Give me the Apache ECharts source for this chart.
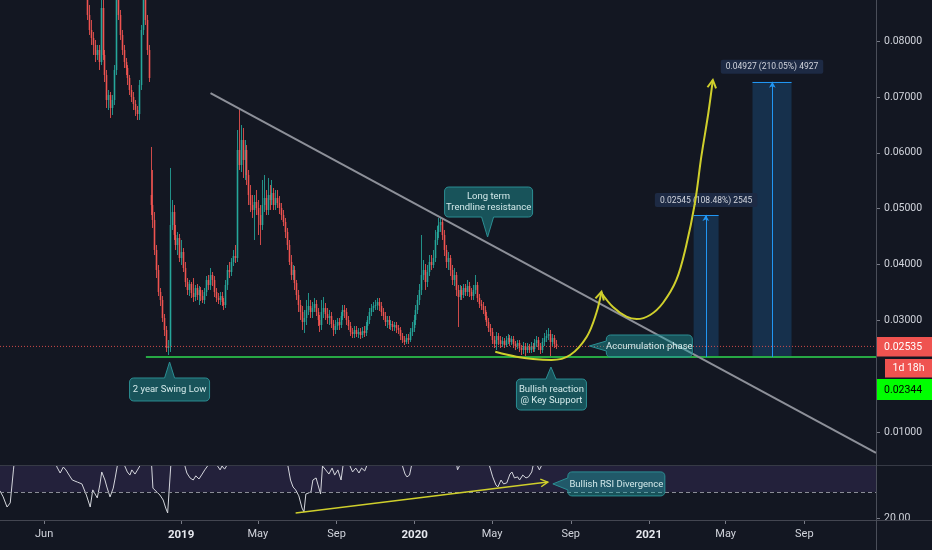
<!DOCTYPE html>
<html><head><meta charset="utf-8">
<script src="https://cdn.jsdelivr.net/npm/echarts@6.0.0/dist/echarts.min.js"></script>
<style>html,body{margin:0;padding:0;background:#131722;}#c{width:932px;height:550px;}</style>
</head><body><div id="c"></div>
<script>
// ---------- DATA ----------
const candleStart = '2018-08-08';   // first 3-day candle
const candleStepDays = 3;
const open = [
.09273,.08468,.08199,.08056,.07931,.07752,.07841,.07626,.08593,.07752,
.07393,.06946,.07035,.06803,.06946,.07483,.08826,.08468,.08110,.07841,
.07626,.07519,.07340,.07125,.07000,.06874,.06767,.06695,.07214,.08199,
.08915,.08378,.07841,.05245,.05066,.04798,.04261,.03903,.03509,.03366,
.03043,.02829,.02506,.02542,.04708,.04941,.04529,.04350,.04475,.04117,
.04225,.03938,.03688,.03545,.03652,.03491,.03419,.03580,.03455,.03545,
.03437,.03366,.03509,.03724,.03634,.03813,.03724,.03509,.03401,.03366,
.03437,.03330,.03276,.03634,.03903,.03867,.04046,.04153,.04117,.06051,
.05782,.06230,.05872,.06051,.05603,.05245,.05066,.04977,.05120,.05013,
.04887,.04708,.05066,.05192,.04977,.05245,.05156,.05281,.05066,.05192,
.05102,.05013,.04887,.04762,.04583,.04350,.04046,.03813,.03903,.03670,
.03455,.03276,.03151,.02972,.03043,.03187,.03258,.03151,.03222,.03294,
.03151,.03008,.02918,.03151,.03222,.03115,.03043,.03079,.02936,.02829,
.02900,.02972,.02918,.03079,.03187,.03151,.03008,.02900,.02793,.02757,
.02829,.02757,.02793,.02739,.02811,.02775,.02900,.03008,.03151,.03222,
.03258,.03276,.03330,.03258,.03151,.03079,.02972,.03008,.02918,.02936,
.02882,.02918,.02864,.02829,.02721,.02649,.02614,.02685,.02649,.02793,
.02864,.03008,.03187,.03366,.03545,.03813,.03903,.03688,.03867,.04046,
.03992,.04117,.04440,.04583,.04708,.04762,.04529,.04261,.04046,.04117,
.03903,.03724,.03813,.03545,.03419,.03545,.03455,.03580,.03509,.03616,
.03509,.03437,.03545,.03634,.03401,.03294,.03258,.03187,.03079,.02972,
.02864,.02793,.02649,.02578,.02721,.02649,.02578,.02632,.02560,.02649,
.02685,.02614,.02667,.02578,.02542,.02596,.02506,.02470,.02542,.02470,
.02524,.02470,.02542,.02488,.02596,.02649,.02542,.02470,.02614,.02685,
.02721,.02757,.02614,.02685,.02578];
const close = [
.08468,.08199,.08056,.07931,.07752,.07841,.07626,.08593,.07752,.07393,
.06946,.07035,.06803,.06946,.07483,.08826,.08468,.08110,.07841,.07626,
.07519,.07340,.07125,.07000,.06874,.06767,.06695,.07214,.08199,.08915,
.08378,.07841,.07340,.05066,.04798,.04261,.03903,.03509,.03366,.03043,
.02829,.02506,.02542,.04708,.04941,.04529,.04350,.04475,.04117,.04225,
.03938,.03688,.03545,.03652,.03491,.03419,.03580,.03455,.03545,.03437,
.03366,.03509,.03724,.03634,.03813,.03724,.03509,.03401,.03366,.03437,
.03330,.03276,.03634,.03903,.03867,.04046,.04153,.04117,.06051,.05782,
.06230,.05872,.06051,.05603,.05245,.05066,.04977,.05120,.05013,.04887,
.04708,.05066,.05192,.04977,.05245,.05156,.05281,.05066,.05192,.05102,
.05013,.04887,.04762,.04583,.04350,.04046,.03813,.03903,.03670,.03455,
.03276,.03151,.02972,.03043,.03187,.03258,.03151,.03222,.03294,.03151,
.03008,.02918,.03151,.03222,.03115,.03043,.03079,.02936,.02829,.02900,
.02972,.02918,.03079,.03187,.03151,.03008,.02900,.02793,.02757,.02829,
.02757,.02793,.02739,.02811,.02775,.02900,.03008,.03151,.03222,.03258,
.03276,.03330,.03258,.03151,.03079,.02972,.03008,.02918,.02936,.02882,
.02918,.02864,.02829,.02721,.02649,.02614,.02685,.02649,.02793,.02864,
.03008,.03187,.03366,.03545,.03813,.03903,.03688,.03867,.04046,.03992,
.04117,.04440,.04583,.04708,.04762,.04529,.04261,.04046,.04117,.03903,
.03724,.03813,.03545,.03419,.03545,.03455,.03580,.03509,.03616,.03509,
.03437,.03545,.03634,.03401,.03294,.03258,.03187,.03079,.02972,.02864,
.02793,.02649,.02578,.02721,.02649,.02578,.02632,.02560,.02649,.02685,
.02614,.02667,.02578,.02542,.02596,.02506,.02470,.02542,.02470,.02524,
.02470,.02542,.02488,.02596,.02649,.02542,.02470,.02614,.02685,.02721,
.02757,.02614,.02685,.02578,.02535];
const low = [
.08378,.08110,.07931,.07752,.07626,.07662,.07483,.07572,.07662,.07268,
.06803,.06767,.06624,.06677,.06856,.07393,.08378,.08020,.07752,.07519,
.07393,.07214,.07035,.06910,.06767,.06660,.06588,.06588,.07125,.08110,
.08289,.07752,.07268,.04887,.04655,.04171,.03759,.03437,.03258,.02972,
.02721,.02435,.02381,.02435,.04619,.04440,.04261,.04171,.04046,.03992,
.03867,.03598,.03455,.03437,.03401,.03330,.03348,.03366,.03276,.03348,
.03312,.03294,.03437,.03545,.03545,.03616,.03419,.03330,.03294,.03276,
.03258,.03187,.03222,.03545,.03759,.03795,.03974,.04028,.04046,.05693,
.05657,.05550,.05514,.05424,.05066,.04941,.04834,.04440,.04887,.04529,
.04350,.04619,.04941,.04887,.04887,.04977,.05066,.04977,.04977,.05013,
.04905,.04798,.04690,.04475,.04261,.03992,.03724,.03724,.03545,.03366,
.03151,.03008,.02829,.02775,.02918,.03097,.03043,.03043,.03151,.03079,
.02900,.02793,.02829,.03043,.03008,.02936,.02918,.02864,.02721,.02757,
.02829,.02829,.02864,.03008,.03043,.02918,.02829,.02721,.02685,.02685,
.02703,.02685,.02667,.02685,.02703,.02721,.02829,.02936,.03079,.03151,
.03187,.03187,.03169,.03079,.03008,.02900,.02864,.02846,.02829,.02811,
.02811,.02775,.02757,.02649,.02596,.02560,.02578,.02578,.02614,.02721,
.02793,.02918,.03115,.03276,.03455,.03724,.03545,.03598,.03795,.03903,
.03938,.04046,.04350,.04475,.04583,.04440,.04153,.03938,.03903,.03795,
.03634,.03616,.03437,.02882,.03366,.03366,.03401,.03437,.03437,.03419,
.03366,.03366,.03473,.03330,.03222,.03187,.03115,.03008,.02900,.02793,
.02721,.02578,.02506,.02470,.02560,.02506,.02524,.02506,.02524,.02578,
.02542,.02560,.02506,.02470,.02488,.02435,.02381,.02399,.02363,.02417,
.02417,.02417,.02435,.02435,.02524,.02470,.02399,.02417,.02542,.02614,
.02649,.02363,.02542,.02506,.02488];
const high = [
.09452,.08647,.08378,.08163,.08020,.07931,.07931,.08826,.08736,.07841,
.07483,.07125,.07089,.07035,.07572,.09273,.09094,.08557,.08199,.07931,
.07698,.07572,.07393,.07214,.07089,.06946,.06839,.07304,.08289,.09452,
.09273,.08468,.07931,.06105,.05693,.04941,.04350,.03992,.03580,.03437,
.03115,.02900,.02649,.05729,.05156,.05066,.04708,.04583,.04547,.04440,
.04296,.04046,.03759,.03724,.03688,.03759,.03634,.03652,.03616,.03598,
.03545,.03580,.03795,.03813,.03938,.03867,.03795,.03580,.03491,.03509,
.03509,.03401,.03724,.03992,.04046,.04117,.04261,.04350,.06409,.06803,
.06498,.06445,.06230,.06140,.05693,.05424,.05245,.05245,.05335,.05156,
.05066,.05514,.05603,.05335,.05550,.05424,.05514,.05371,.05335,.05335,
.05227,.05102,.04977,.04834,.04655,.04440,.04171,.03992,.03974,.03724,
.03545,.03366,.03258,.03187,.03366,.03491,.03366,.03330,.03401,.03366,
.03222,.03097,.03366,.03419,.03312,.03222,.03187,.03151,.03008,.03008,
.03043,.03043,.03151,.03276,.03276,.03222,.03079,.02972,.02864,.02900,
.02900,.02864,.02864,.02882,.02900,.02972,.03079,.03222,.03294,.03330,
.03366,.03401,.03401,.03330,.03222,.03151,.03079,.03079,.03008,.02990,
.02972,.02972,.02918,.02882,.02775,.02721,.02757,.02757,.02864,.02972,
.03097,.03276,.03455,.03652,.04529,.04082,.04010,.03992,.04171,.04171,
.04261,.04619,.04690,.04834,.04834,.04834,.04619,.04350,.04225,.04171,
.03992,.03938,.03867,.03634,.03634,.03616,.03652,.03652,.03724,.03688,
.03580,.03634,.03813,.03688,.03473,.03366,.03330,.03258,.03151,.03043,
.02936,.02864,.02721,.02793,.02775,.02721,.02703,.02685,.02721,.02757,
.02739,.02721,.02721,.02632,.02649,.02649,.02560,.02614,.02596,.02596,
.02578,.02614,.02596,.02667,.02721,.02703,.02596,.02685,.02775,.02829,
.02864,.02829,.02757,.02739,.02649];

const lastPrice = 0.02535;
const supportPrice = 0.02344;
const supportStart = '2018-11-07';
const countdownText = '1d 18h';

const priceTicks = [0.01, 0.03, 0.04, 0.05, 0.06, 0.07, 0.08];
const rsiTicks = [20];
const timeTickDates = ['2018-06-01','2019-01-01','2019-05-01','2019-09-01','2020-01-01','2020-05-01','2020-09-01','2021-01-01','2021-05-01','2021-09-01'];
const timeTickLabels = ['Jun','2019','May','Sep','2020','May','Sep','2021','May','Sep'];

const trendDates = ['2019-02-16','2021-12-22'];
const trendPrices = [0.07071, 0.00627];

const curve1Dates = ['2020-05-06','2020-06-08','2020-07-04','2020-08-02','2020-08-31','2020-09-26','2020-10-11','2020-10-19'];
const curve1Prices = [0.02440,0.02351,0.02309,0.02291,0.02381,0.02709,0.03133,0.03514];
const curve2Dates = ['2020-10-19','2020-11-06','2020-11-27','2020-12-13','2021-01-03','2021-01-23','2021-02-13','2021-02-28','2021-03-14','2021-03-24','2021-04-04','2021-04-11'];
const curve2Prices = [0.03491,0.03240,0.03067,0.03025,0.03097,0.03312,0.03724,0.04320,0.05102,0.05931,0.06713,0.07304];

const rangeStart = ['2021-03-12','2021-06-12'];
const rangeEnd   = ['2021-04-20','2021-08-12'];
const rangeMid   = ['2021-03-31','2021-07-13'];
const rangeDelta = [0.02545, 0.04927];
const rangeLabels = ['0.02545 (108.48%) 2545','0.04927 (210.05%) 4927'];

const rsiDates = ['2018-03-24','2018-03-29','2018-04-04','2018-04-09','2018-04-12','2018-04-14','2018-04-18','2018-05-18','2018-06-13','2018-06-21',
'2018-06-26','2018-07-01','2018-07-05','2018-07-10','2018-07-15','2018-07-23','2018-07-30','2018-08-06','2018-08-12','2018-08-16',
'2018-08-23','2018-08-27','2018-08-30','2018-09-04','2018-09-07','2018-09-12','2018-09-17','2018-09-20','2018-09-23','2018-09-28',
'2018-10-05','2018-10-09','2018-10-13','2018-10-16','2018-10-21','2018-10-24','2018-10-29','2018-11-06','2018-11-13','2018-11-16',
'2018-11-18','2018-11-24','2018-11-29','2018-12-04','2018-12-08','2018-12-11','2018-12-14','2018-12-16','2018-12-19','2019-01-04',
'2019-01-07','2019-01-10','2019-01-15','2019-01-20','2019-01-24','2019-01-29','2019-02-03','2019-02-07','2019-02-12','2019-02-18',
'2019-02-27','2019-03-03','2019-03-06','2019-03-10','2019-03-13','2019-03-21','2019-05-04','2019-06-14','2019-06-17','2019-06-21',
'2019-06-25','2019-06-29','2019-07-04','2019-07-09','2019-07-12','2019-07-15','2019-07-18','2019-07-23','2019-07-26','2019-07-31',
'2019-08-03','2019-08-07','2019-08-10','2019-08-15','2019-08-20','2019-08-25','2019-08-29','2019-09-03','2019-09-08','2019-09-11',
'2019-09-15','2019-09-22','2019-09-26','2019-10-01','2019-10-06','2019-10-10','2019-10-15','2019-10-18','2019-10-26','2019-12-09',
'2019-12-13','2019-12-17','2019-12-20','2019-12-24','2019-12-27','2020-01-03','2020-03-04','2020-03-07','2020-03-08','2020-03-11',
'2020-03-16','2020-04-21','2020-04-27','2020-05-02','2020-05-07','2020-05-10','2020-05-15','2020-05-19','2020-05-24','2020-05-29',
'2020-06-01','2020-06-05','2020-06-10','2020-06-13','2020-06-18','2020-06-23','2020-06-27','2020-07-02','2020-07-04','2020-07-08',
'2020-07-11','2020-07-14','2020-07-17','2020-07-22','2020-08-09'];
const rsiValues = [30.4,28.1,24.2,25.8,26.2,38.5,48,55,46,39.6,
37.3,39.6,38.5,36.5,34.6,33.8,33.1,28.8,24.2,30.8,
27.7,32.7,37.7,34.6,31.9,28.1,31.5,35.4,39.6,46,
40,37.7,36.5,38.5,36.9,38.1,40.2,48,44,40,
31.5,30,28.8,26.9,23.8,21.9,22.3,40.5,52,45,
40,37.3,35.4,34.6,36.2,35,36.9,38.5,40.2,45,
40,38.5,40,38.8,40,50,60,46,40,34.6,
31.9,30.8,28.5,23.8,22.3,29.2,29.6,30,34.6,35.4,
32.7,29.2,40,38.5,36.9,39.2,36.5,38.5,34.6,40,
46,40,37.7,39.2,37.3,39.2,38.1,40,46,45,
40,36.9,35.8,36.5,40,46,45,40,38.5,40,
46,46,40,35.8,32.7,31.9,34.6,33.1,33.5,36.9,
37.7,35.4,35.8,34.6,36.5,35.4,35.8,37.7,40,44,
40,38.5,40,45,48];
const rsiLower = 30, rsiUpper = 70;
const rsiTrendDates = ['2019-06-29','2020-07-27'];
const rsiTrendValues = [21.9, 33.8];

const calloutTexts = ['Long term\nTrendline resistance','2 year Swing Low','Bullish reaction\n@ Key Support','Accumulation phase','Bullish RSI Divergence'];
const calloutDates = ['2020-04-24','2018-12-14','2020-08-01','2020-09-30','2020-08-04'];
const calloutValues = [0.04493, 0.02256, 0.02166, 0.02542, 33.1];
const calloutPane = [0, 0, 0, 0, 1];

// ---------- VIEW ----------
const BG = '#131722', TXT = '#d1d4dc', YEL = '#cfcf2c', UP = '#26a69a', DN = '#ef5350';
const FONT = 'Roboto, "Noto Sans", sans-serif';
const DAY = 86400000;
const T = s => Date.UTC(+s.slice(0,4), +s.slice(5,7)-1, +s.slice(8,10));
const xMin = T('2018-03-24'), xMax = T('2021-12-22');
const priceMin = 0.00412, priceMax = 0.08736;
const rsiMin = 19.2, rsiMax = 40;
const t0 = T(candleStart);
const candleData = close.map((c, i) => [t0 + i * candleStepDays * DAY, open[i], c, low[i], high[i]]);
const tickVals = timeTickDates.map(T);

function renderCandle(params, api) {
  const t = api.value(0), o = api.value(1), c = api.value(2), l = api.value(3), h = api.value(4);
  const po = api.coord([t, o]), pc = api.coord([t, c]), pl = api.coord([t, l]), ph = api.coord([t, h]);
  const col = c >= o ? UP : DN;
  const ix = Math.floor(po[0]) + 0.5;
  const top = Math.min(po[1], pc[1]), bot = Math.max(po[1], pc[1]);
  return {type: 'group', children: [
    {type: 'line', shape: {x1: ix, y1: ph[1], x2: ix, y2: pl[1]}, style: {stroke: col, lineWidth: 1, opacity: 0.85}},
    {type: 'rect', shape: {x: ix - 0.8, y: top, width: 1.6, height: Math.max(bot - top, 1)}, style: {fill: col}}
  ]};
}

const chart = echarts.init(document.getElementById('c'), null, {renderer: 'canvas'});
const xCommon = {type: 'value', min: xMin, max: xMax, splitLine: {show: false}};
const option = {
  backgroundColor: BG,
  animation: false,
  textStyle: {fontFamily: FONT},
  grid: [
    {left: 0, right: 56, top: 0, height: 465},
    {left: 0, right: 56, top: 466, height: 54}
  ],
  xAxis: [
    Object.assign({gridIndex: 0, show: false}, xCommon),
    Object.assign({gridIndex: 1, axisLine: {show: false},
      axisTick: {show: true, length: 4, customValues: tickVals, lineStyle: {color: '#787b86'}},
      axisLabel: {customValues: tickVals, color: TXT, fontSize: 11, margin: 9, fontFamily: FONT,
        formatter: v => { let i = 0, best = Infinity; tickVals.forEach((t, k) => { const d = Math.abs(t - v); if (d < best) { best = d; i = k; } });
          const s = timeTickLabels[i]; return /^\d{4}$/.test(s) ? '{y|' + s + '}' : s; },
        rich: {y: {fontWeight: 'bold', color: '#e6e8ee', fontSize: 11.5, fontFamily: FONT}}}}, xCommon)
  ],
  yAxis: [
    {type: 'value', gridIndex: 0, position: 'right', min: priceMin, max: priceMax,
      splitLine: {show: false}, axisLine: {show: false},
      axisTick: {show: true, length: 4, customValues: priceTicks, lineStyle: {color: '#787b86'}},
      axisLabel: {customValues: priceTicks, formatter: v => v.toFixed(5), color: TXT, fontSize: 10.5, margin: 8, fontFamily: FONT}},
    {type: 'value', gridIndex: 1, position: 'right', min: rsiMin, max: rsiMax,
      splitLine: {show: false}, axisLine: {show: false},
      axisTick: {show: true, length: 4, customValues: rsiTicks, lineStyle: {color: '#787b86'}},
      axisLabel: {customValues: rsiTicks, formatter: v => v.toFixed(2), color: TXT, fontSize: 10.5, margin: 8, fontFamily: FONT}}
  ],
  series: [
    {type: 'line', xAxisIndex: 0, yAxisIndex: 0, symbol: 'none', silent: true,
      data: [[T(supportStart), supportPrice], [xMax, supportPrice]],
      lineStyle: {color: '#27a844', width: 2}, z: 3,
      markArea: {silent: true, itemStyle: {color: 'rgba(33,150,243,0.2)'},
        label: {show: true, position: 'top', distance: 8, color: TXT, fontSize: 8.5, fontFamily: FONT,
          backgroundColor: '#1d2a44', padding: [3, 5, 2, 5], borderRadius: 2},
        data: rangeStart.map((s, i) => [{name: rangeLabels[i], xAxis: T(s), yAxis: supportPrice}, {xAxis: T(rangeEnd[i]), yAxis: supportPrice + rangeDelta[i]}])},
      markLine: {silent: true, precision: 6, symbolSize: [5, 6], label: {show: false}, lineStyle: {color: '#2196f3', width: 1, type: 'solid'},
        data: rangeMid.map((m, i) => [{coord: [T(m), supportPrice], symbol: 'none'}, {coord: [T(m), supportPrice + rangeDelta[i]], symbol: 'arrow'}])
          .concat(rangeStart.map((s, i) => [{coord: [T(s), supportPrice + rangeDelta[i]], symbol: 'none'}, {coord: [T(rangeEnd[i]), supportPrice + rangeDelta[i]], symbol: 'none'}]))}
    },
    {type: 'custom', xAxisIndex: 0, yAxisIndex: 0, data: candleData, encode: {x: 0, y: [1, 2, 3, 4]},
      renderItem: renderCandle, clip: true, silent: true, z: 4},
    {type: 'line', xAxisIndex: 0, yAxisIndex: 0, symbol: 'none', silent: true, z: 4,
      data: [[xMin, lastPrice], [xMax, lastPrice]],
      lineStyle: {color: DN, type: [1, 2], width: 1, opacity: 0.85}},
    {type: 'line', xAxisIndex: 0, yAxisIndex: 0, symbol: 'none', silent: true, z: 5,
      data: trendDates.map((d, i) => [T(d), trendPrices[i]]), lineStyle: {color: '#8d9099', width: 2}},
    {type: 'line', xAxisIndex: 0, yAxisIndex: 0, symbol: 'none', silent: true, smooth: 0.35, z: 6,
      data: curve1Dates.map((d, i) => [T(d), curve1Prices[i]]), lineStyle: {color: YEL, width: 2}},
    {type: 'line', xAxisIndex: 0, yAxisIndex: 0, symbol: 'none', silent: true, smooth: 0.35, z: 6,
      data: curve2Dates.map((d, i) => [T(d), curve2Prices[i]]), lineStyle: {color: YEL, width: 2}},
    {type: 'line', xAxisIndex: 1, yAxisIndex: 1, symbol: 'none', silent: true, clip: true, z: 4,
      data: rsiDates.map((d, i) => [T(d), rsiValues[i]]), lineStyle: {color: '#d4d6dc', width: 1},
      markArea: {silent: true, itemStyle: {color: 'rgba(126,87,194,0.16)'}, data: [[{yAxis: rsiLower}, {yAxis: Math.min(rsiUpper, rsiMax)}]]},
      markLine: {silent: true, precision: 4, symbol: 'none', label: {show: false}, lineStyle: {color: '#8a8d96', type: [4, 3], width: 1}, data: [{yAxis: rsiLower}]}},
    {type: 'line', xAxisIndex: 1, yAxisIndex: 1, symbol: 'none', silent: true, z: 5,
      data: rsiTrendDates.map((d, i) => [T(d), rsiTrendValues[i]]), lineStyle: {color: YEL, width: 1.5}}
  ]
};
chart.setOption(option);

// ---------- overlays positioned through the axes ----------
const px0 = v => chart.convertToPixel({xAxisIndex: 0, yAxisIndex: 0}, v);
const px1 = v => chart.convertToPixel({xAxisIndex: 1, yAxisIndex: 1}, v);
const G = [];
const line = (x1, y1, x2, y2, c, z) => G.push({type: 'line', silent: true, z: z || 90, shape: {x1, y1, x2, y2}, style: {stroke: c, lineWidth: 1}});

function chevron(p1, p2, len, col, w) {
  const dx = p2[0] - p1[0], dy = p2[1] - p1[1], L = Math.hypot(dx, dy), ux = dx / L, uy = dy / L, a = 0.5;
  const r = (ang) => [p2[0] - len * (ux * Math.cos(ang) - uy * Math.sin(ang)), p2[1] - len * (ux * Math.sin(ang) + uy * Math.cos(ang))];
  G.push({type: 'polyline', silent: true, z: 60, shape: {points: [r(a), p2, r(-a)]}, style: {stroke: col, lineWidth: w, fill: null}});
}
const c1 = curve1Dates.map((d, i) => px0([T(d), curve1Prices[i]]));
const c2 = curve2Dates.map((d, i) => px0([T(d), curve2Prices[i]]));
chevron(c1[c1.length - 2], c1[c1.length - 1], 9, YEL, 2);
chevron(c2[c2.length - 2], c2[c2.length - 1], 9, YEL, 2);
const rt = rsiTrendDates.map((d, i) => px1([T(d), rsiTrendValues[i]]));
chevron(rt[0], rt[1], 8, YEL, 1.5);

// callout bubbles
const geo = [
  {dir: 'down', w: 88, h: 30, gap: 20, shift: 1, hw: 6},
  {dir: 'up', w: 80, h: 23, gap: 16, shift: 0, hw: 5},
  {dir: 'up', w: 70, h: 31, gap: 12, shift: 0.5, hw: 5},
  {dir: 'left', w: 86, h: 22, gap: 17, shift: 0, hw: 5},
  {dir: 'left', w: 97, h: 24, gap: 15, shift: 0, hw: 6}
];
function bubblePts(bx, by, w, h, r, dir, tx, ty, hw) {
  const pts = [];
  const arc = (cx, cy, a0, a1) => { for (let k = 0; k <= 4; k++) { const a = a0 + (a1 - a0) * k / 4; pts.push([cx + r * Math.cos(a), cy + r * Math.sin(a)]); } };
  arc(bx + r, by + r, Math.PI, 1.5 * Math.PI);
  if (dir === 'up') pts.push([tx - hw, by], [tx, ty], [tx + hw, by]);
  arc(bx + w - r, by + r, 1.5 * Math.PI, 2 * Math.PI);
  arc(bx + w - r, by + h - r, 0, 0.5 * Math.PI);
  if (dir === 'down') pts.push([tx + hw, by + h], [tx, ty], [tx - hw, by + h]);
  arc(bx + r, by + h - r, 0.5 * Math.PI, Math.PI);
  if (dir === 'left') pts.push([bx, ty + hw], [tx, ty], [bx, ty - hw]);
  return pts;
}
calloutTexts.forEach((txt, i) => {
  const g = geo[i];
  const [tx, ty] = (calloutPane[i] ? px1 : px0)([T(calloutDates[i]), calloutValues[i]]);
  let bx, by;
  if (g.dir === 'down') { bx = tx - g.w / 2 + g.shift; by = ty - g.gap - g.h; }
  else if (g.dir === 'up') { bx = tx - g.w / 2 + g.shift; by = ty + g.gap; }
  else { bx = tx + g.gap; by = ty - g.h / 2 + g.shift; }
  G.push({type: 'polygon', silent: true, z: 70, shape: {points: bubblePts(bx, by, g.w, g.h, 4, g.dir, tx, ty, g.hw)},
    style: {fill: 'rgba(30,168,170,0.42)', stroke: '#2b8e93', lineWidth: 1}});
  G.push({type: 'text', silent: true, z: 71, x: bx + g.w / 2, y: by + g.h / 2 + 0.5,
    style: {text: txt, fill: '#d3e9ea', font: '9.5px ' + FONT, align: 'center', verticalAlign: 'middle', lineHeight: 11}});
});

// pane separators and price scale border
line(0, 465.5, 932, 465.5, '#363a45');
line(0, 520.5, 932, 520.5, '#434651');
G.push({type: 'rect', silent: true, z: 95, shape: {x: 877, y: 521, width: 55, height: 29}, style: {fill: BG}});
line(876.5, 0, 876.5, 550, '#4a4e59', 96);

// price-scale badges
const yLast = px0([xMax, lastPrice])[1];
const badge = (x, y, w, h, fill, text, col, align) => {
  G.push({type: 'rect', silent: true, z: 97, shape: {x, y, width: w, height: h}, style: {fill}});
  G.push({type: 'text', silent: true, z: 98, x: align === 'center' ? x + w / 2 : 884, y: y + h / 2 + 0.5,
    style: {text, fill: col, font: '10.5px ' + FONT, align: align, verticalAlign: 'middle'}});
};
badge(877, yLast - 9.5, 55, 19.5, DN, lastPrice.toFixed(5), '#ffffff', 'left');
badge(885, yLast + 12.5, 47, 18.5, DN, countdownText, '#ffffff', 'center');
badge(877, yLast + 32.5, 55, 21, '#00ff00', supportPrice.toFixed(5), '#000000', 'left');

chart.setOption({graphic: G});
</script></body></html>
